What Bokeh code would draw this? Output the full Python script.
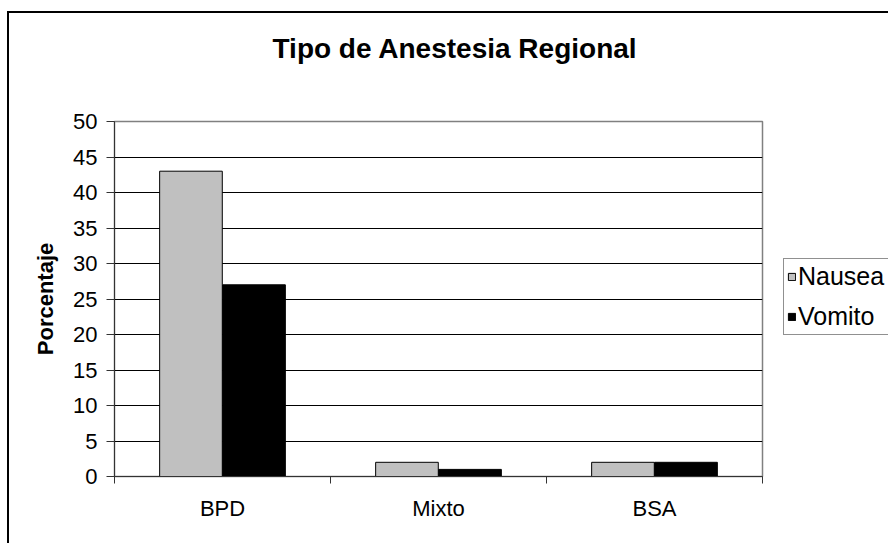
import numpy as np
from bokeh.plotting import figure
from bokeh.models import (ColumnDataSource, Range1d, FixedTicker, Legend, LegendItem, Title)
from bokeh.embed import file_html
from bokeh.resources import INLINE

categories = ["BPD", "Mixto", "BSA"]
nausea = [43, 2, 2]
vomito = [27, 1, 2]
series_names = ["Nausea", "Vomito"]
y_ticks = [0, 5, 10, 15, 20, 25, 30, 35, 40, 45, 50]
title_text = "Tipo de Anestesia Regional"
y_label = "Porcentaje"

FONT = "Liberation Sans"
centers = np.arange(len(categories)) + 0.5
bar_w = 0.29
off = 0.146

src = ColumnDataSource(dict(
    xn=centers - off, xv=centers + off, nausea=nausea, vomito=vomito))

p = figure(frame_width=648, frame_height=355, output_backend="svg",
           toolbar_location=None, title=None,
           x_range=Range1d(0, len(categories)), y_range=Range1d(0, 50),
           min_border_left=105, min_border_right=126, min_border_top=108,
           min_border_bottom=67)
p.styles = {"margin-left": "7px", "margin-top": "11px",
            "border-left": "2px solid #000", "border-top": "2px solid #000"}

rn = p.vbar(x="xn", top="nausea", width=bar_w, source=src,
            fill_color="#C0C0C0", line_color="#000000", line_width=1)
rv = p.vbar(x="xv", top="vomito", width=bar_w, source=src,
            fill_color="#000000", line_color="#000000", line_width=1)

# frame
p.outline_line_color = "#808080"
p.outline_line_width = 1.5
p.background_fill_color = "white"
p.border_fill_color = "white"

# y axis
yax = p.yaxis[0]
yax.ticker = FixedTicker(ticks=y_ticks)
yax.axis_line_color = "#333333"
yax.major_tick_line_color = "#333333"
yax.major_tick_out = 8
yax.major_tick_in = 0
yax.minor_tick_line_color = None
yax.major_label_standoff = 9
yax.major_label_text_font = FONT
yax.major_label_text_font_size = "22px"
yax.major_label_text_color = "#000000"
yax.axis_label = y_label
yax.axis_label_text_font = FONT
yax.axis_label_text_font_size = "22px"
yax.axis_label_text_font_style = "bold"
yax.axis_label_text_color = "#000000"
yax.axis_label_standoff = 12

# x axis: labels at category centers, minor ticks at category boundaries
xax = p.xaxis[0]
xax.ticker = FixedTicker(ticks=list(centers),
                         minor_ticks=list(range(len(categories) + 1)))
xax.major_label_overrides = {float(c): cat for c, cat in zip(centers, categories)}
xax.axis_line_color = "#333333"
xax.major_tick_line_color = None
xax.major_tick_out = 0
xax.major_tick_in = 0
xax.minor_tick_line_color = "#333333"
xax.minor_tick_out = 7
xax.minor_tick_in = 0
xax.major_label_standoff = 12
xax.major_label_text_font = FONT
xax.major_label_text_font_size = "22px"
xax.major_label_text_color = "#000000"

# grid
p.xgrid.grid_line_color = None
p.ygrid.ticker = FixedTicker(ticks=y_ticks)
p.ygrid.grid_line_color = "#000000"
p.ygrid.grid_line_width = 1

# spacer between frame and title, then the title itself
p.add_layout(Title(text=" ", text_font_size="1px", standoff=50), "above")
p.add_layout(Title(text=title_text, align="left", text_font=FONT,
                   text_font_size="28px", text_font_style="bold",
                   text_color="#000000", standoff=10, offset=158), "above")

legend = Legend(items=[LegendItem(label=series_names[0], renderers=[rn]),
                       LegendItem(label=series_names[1], renderers=[rv])],
                location=(21, 141), orientation="vertical")
legend.label_text_font = FONT
legend.label_text_font_size = "25px"
legend.label_text_color = "#000000"
legend.glyph_width = 9
legend.glyph_height = 9
legend.label_height = 29
legend.label_width = 100
legend.label_standoff = 2
legend.spacing = 11
legend.padding = 3
legend.margin = 0
legend.border_line_color = "#222222"
legend.border_line_width = 1
legend.background_fill_color = "white"
legend.background_fill_alpha = 1
p.add_layout(legend, "right")

open("out.html", "w").write(file_html(p, INLINE))
